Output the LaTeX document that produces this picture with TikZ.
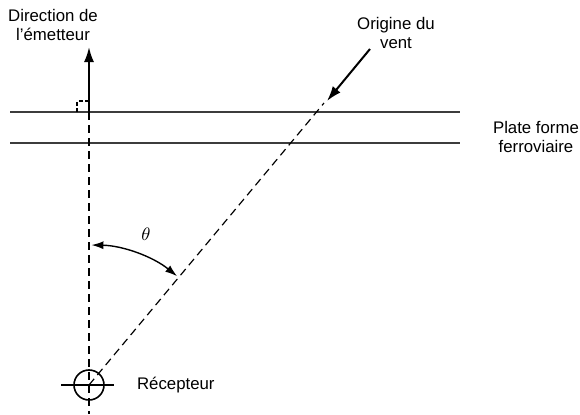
\documentclass[tikz,border=0pt]{standalone}
\usepackage{fontspec}
\setmainfont{Liberation Sans}
\usepackage{amsmath}
\usetikzlibrary{arrows.meta,positioning}
\definecolor{RailGrey}{RGB}{60,60,60}
\newcommand{\rail}[1]{%
  \draw[RailGrey,line width=1.4pt] (10,#1)--(460,#1);}

\begin{document}
\begin{tikzpicture}[x=0.5pt,y=0.5pt,font=\fontsize{8.4}{9.2}\selectfont,
  tirets/.style={dash pattern=on 4pt off 2.5pt,line width=0.6pt},
  fleche/.style={line width=1pt,-{Latex[length=7.5pt,width=5pt]}}]
  \useasboundingbox (0,0) rectangle (580,414);
  \rail{302}
  \rail{271}
  \coordinate (rec) at (89,29);
  \coordinate (bas) at (89,0);
  \coordinate (perp) at (89,302);
  \coordinate (haut) at (89,367);
  \coordinate (vent) at (324,311);
  \coordinate (ventdep) at (370,365);
  \coordinate (venttip) at (327,313);
  \node[circle,draw,line width=0.8pt,minimum size=15pt,inner sep=0pt] (capteur) at (rec) {};
  \draw[line width=0.8pt] ([xshift=-14pt]rec)--([xshift=12.5pt]rec);
  \draw[tirets] (perp)--(bas);
  \draw[tirets] (rec)--(vent);
  \draw[dash pattern=on 2pt off 1.2pt,line width=0.6pt] ([xshift=-6pt]perp) -- ++(0,11) -- ++(12,0);
  \draw[fleche] (perp)--(haut);
  \draw[fleche] (ventdep)--(venttip);
  \draw[line width=0.7pt,{Latex[length=6pt,width=4pt]}-{Latex[length=6pt,width=4pt]}]
    ([shift={(89:140)}]rec) arc[start angle=89,end angle=51,radius=140];
  \node[font=\fontsize{9}{10}\selectfont] (theta) at (146,180) {$\theta$};
  \node[align=center] (dirtxt) at (53,389) {Direction de\\l'émetteur};
  \node[align=center] (origtxt) at (396,381) {Origine du\\vent};
  \node[align=center] (plateforme) at (536,277) {Plate forme\\ferroviaire};
  \node[anchor=west] (recepteur) at (130,29) {Récepteur};
\end{tikzpicture}
\end{document}
